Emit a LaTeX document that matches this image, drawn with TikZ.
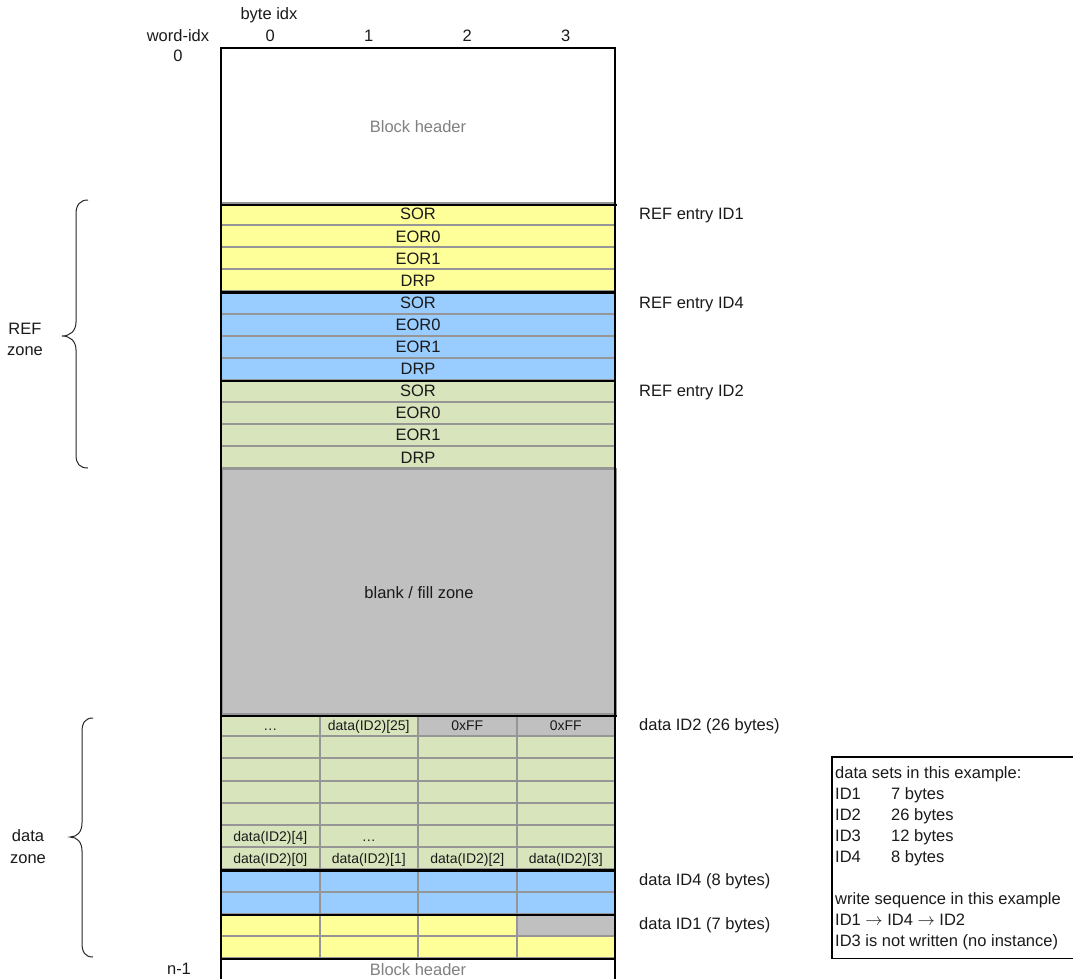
\documentclass[tikz,border=0pt]{standalone}
\usepackage{fontspec}
\setmainfont{Liberation Sans}
\definecolor{cyel}{HTML}{FFFF99}
\definecolor{cblu}{HTML}{99CCFF}
\definecolor{cgrn}{HTML}{D8E4BC}
\definecolor{cgry}{HTML}{C0C0C0}
\definecolor{cline}{HTML}{969696}
\definecolor{chead}{HTML}{808080}
\definecolor{ctext}{HTML}{1A1A1A}
\begin{document}
\begin{tikzpicture}[x=1pt,y=-1pt,
  txt/.style={inner sep=0pt, text=ctext, font=\fontsize{16.5}{19}\selectfont, text height=15.1pt, text depth=3.3pt},
  sml/.style={inner sep=0pt, text=ctext, font=\fontsize{14}{16}\selectfont, text height=12.8pt, text depth=2.8pt},
  refrow/.style={draw=cline, line width=2pt, minimum width=394pt, minimum height=22.1pt, inner sep=0pt, txt},
  cell/.style={draw=cline, line width=2pt, minimum width=98.5pt, minimum height=22.2pt, inner sep=0pt},
  zone/.style={draw=cline, line width=2pt, minimum width=394pt, inner sep=0pt, anchor=north west},
  heavy/.style={line width=2.4pt, draw=black},
  brc/.style={line width=1pt, draw=black!85}
]
\useasboundingbox (0,0) rectangle (1073,978);
\clip (0,0) rectangle (1073,978);

% header zone
\node[zone, draw=none, minimum height=155pt] (hdr) at (221,48) {};
\node[txt, text=chead] (hdrt) at (418,127) {Block header};

% REF zone rows
\foreach \i/\c/\t in {1/cyel/SOR,2/cyel/EOR0,3/cyel/EOR1,4/cyel/DRP,
                      5/cblu/SOR,6/cblu/EOR0,7/cblu/EOR1,8/cblu/DRP,
                      9/cgrn/SOR,10/cgrn/EOR0,11/cgrn/EOR1,12/cgrn/DRP} {
  \node[refrow, fill=\c] (r\i) at (418,{203+22.1*(\i-0.5)}) {\t};
}

% blank / fill zone
\node[zone, fill=cgry, minimum height=245.8pt] (fill) at (221,468.2) {};
\node[txt] (fillt) at (fill.center) {blank / fill zone};

% data zone cells
\foreach \k/\ca/\cb/\cc/\cd in {0/cgrn/cgrn/cgry/cgry,1/cgrn/cgrn/cgrn/cgrn,2/cgrn/cgrn/cgrn/cgrn,
  3/cgrn/cgrn/cgrn/cgrn,4/cgrn/cgrn/cgrn/cgrn,5/cgrn/cgrn/cgrn/cgrn,6/cgrn/cgrn/cgrn/cgrn,
  7/cblu/cblu/cblu/cblu,8/cblu/cblu/cblu/cblu,9/cyel/cyel/cyel/cgry,10/cyel/cyel/cyel/cyel} {
  \node[cell, fill=\ca] (d\k-0) at (270.25,{714+22.2*(\k+0.5)}) {};
  \node[cell, fill=\cb] (d\k-1) at (368.75,{714+22.2*(\k+0.5)}) {};
  \node[cell, fill=\cc] (d\k-2) at (467.25,{714+22.2*(\k+0.5)}) {};
  \node[cell, fill=\cd] (d\k-3) at (565.75,{714+22.2*(\k+0.5)}) {};
}
\node[sml] (t00) at (d0-0) {\dots};
\node[sml] (t01) at (d0-1) {data(ID2)[25]};
\node[sml] (t02) at (d0-2) {0xFF};
\node[sml] (t03) at (d0-3) {0xFF};
\node[sml] (t50) at (d5-0) {data(ID2)[4]};
\node[sml] (t51) at (d5-1) {\dots};
\node[sml] (t60) at (d6-0) {data(ID2)[0]};
\node[sml] (t61) at (d6-1) {data(ID2)[1]};
\node[sml] (t62) at (d6-2) {data(ID2)[2]};
\node[sml] (t63) at (d6-3) {data(ID2)[3]};

% bottom header
\node[zone, draw=none, minimum height=22.2pt] (ftr) at (221,958.2) {};
\node[txt, text=chead] (ftrt) at (418,969.3) {Block header};

% heavy lines
\draw[heavy] (221,990) -- (221,48) -- (615,48) -- (615,990);
\draw[heavy] (hdr.south west) -- (hdr.south east);
\draw[heavy] (r4.south west) -- (r4.south east);
\draw[heavy] (r8.south west) -- (r8.south east);
\draw[heavy] (fill.south west) -- (fill.south east);
\draw[heavy] (d6-0.south west) -- (d6-3.south east);
\draw[heavy] (d8-0.south west) -- (d8-3.south east);
\draw[heavy] (d10-0.south west) -- (d10-3.south east);

% top labels
\node[txt] (byteidx) at (269,14) {byte idx};
\node[txt] (wordidx) at (178,36) {word-idx};
\node[txt] (c0) at (270.25,36) {0};
\node[txt] (c1) at (368.75,36) {1};
\node[txt] (c2) at (467.25,36) {2};
\node[txt] (c3) at (565.75,36) {3};
\node[txt] (w0) at (178,56) {0};
\node[txt] (wn) at (179,969) {n-1};

% right labels
\node[txt, anchor=west] (e1) at (639,214) {REF entry ID1};
\node[txt, anchor=west] (e4) at (639,302.5) {REF entry ID4};
\node[txt, anchor=west] (e2) at (639,391) {REF entry ID2};
\node[txt, anchor=west] (dd2) at (639,725) {data ID2 (26 bytes)};
\node[txt, anchor=west] (dd4) at (639,880) {data ID4 (8 bytes)};
\node[txt, anchor=west] (dd1) at (639,924) {data ID1 (7 bytes)};

% braces
\draw[brc] (88,200) .. controls (80,200) and (76,205) .. (76,214) -- (76,322)
  .. controls (76,331) and (70,336) .. (62,336)
  .. controls (70,336) and (76,341) .. (76,350) -- (76,455)
  .. controls (76,464) and (80,468) .. (88,468);
\node[txt] (refz1) at (25,329) {REF};
\node[txt] (refz2) at (25,350) {zone};

\draw[brc] (93,718) .. controls (85,718) and (82,723) .. (82,732) -- (82,823)
  .. controls (82,832) and (77,837) .. (70,837)
  .. controls (77,837) and (82,842) .. (82,851) -- (82,943)
  .. controls (82,952) and (85,957) .. (93,957);
\node[txt] (datz1) at (28,836) {data};
\node[txt] (datz2) at (28,858) {zone};

% legend (its right edge lies outside the picture, as in the reference)
\node[minimum width=280pt, minimum height=201pt, anchor=north west, inner sep=0pt] (legend) at (832,757) {};
\draw[line width=1.8pt, line join=miter] (legend.north east) -- (legend.north west) -- (legend.south west) -- (legend.south east);
\node[txt, anchor=west] (g0) at (835,773) {data sets in this example:};
\node[txt, anchor=west] (g1) at (835,794) {ID1};
\node[txt, anchor=west] (g1b) at (891,794) {7 bytes};
\node[txt, anchor=west] (g2) at (835,815) {ID2};
\node[txt, anchor=west] (g2b) at (891,815) {26 bytes};
\node[txt, anchor=west] (g3) at (835,836) {ID3};
\node[txt, anchor=west] (g3b) at (891,836) {12 bytes};
\node[txt, anchor=west] (g4) at (835,857) {ID4};
\node[txt, anchor=west] (g4b) at (891,857) {8 bytes};
\node[txt, anchor=west] (g5) at (835,899) {write sequence in this example};
\node[txt, anchor=west] (g6) at (835,920) {ID1 $\rightarrow$ ID4 $\rightarrow$ ID2};
\node[txt, anchor=west] (g7) at (835,941) {ID3 is not written (no instance)};
\end{tikzpicture}
\end{document}
